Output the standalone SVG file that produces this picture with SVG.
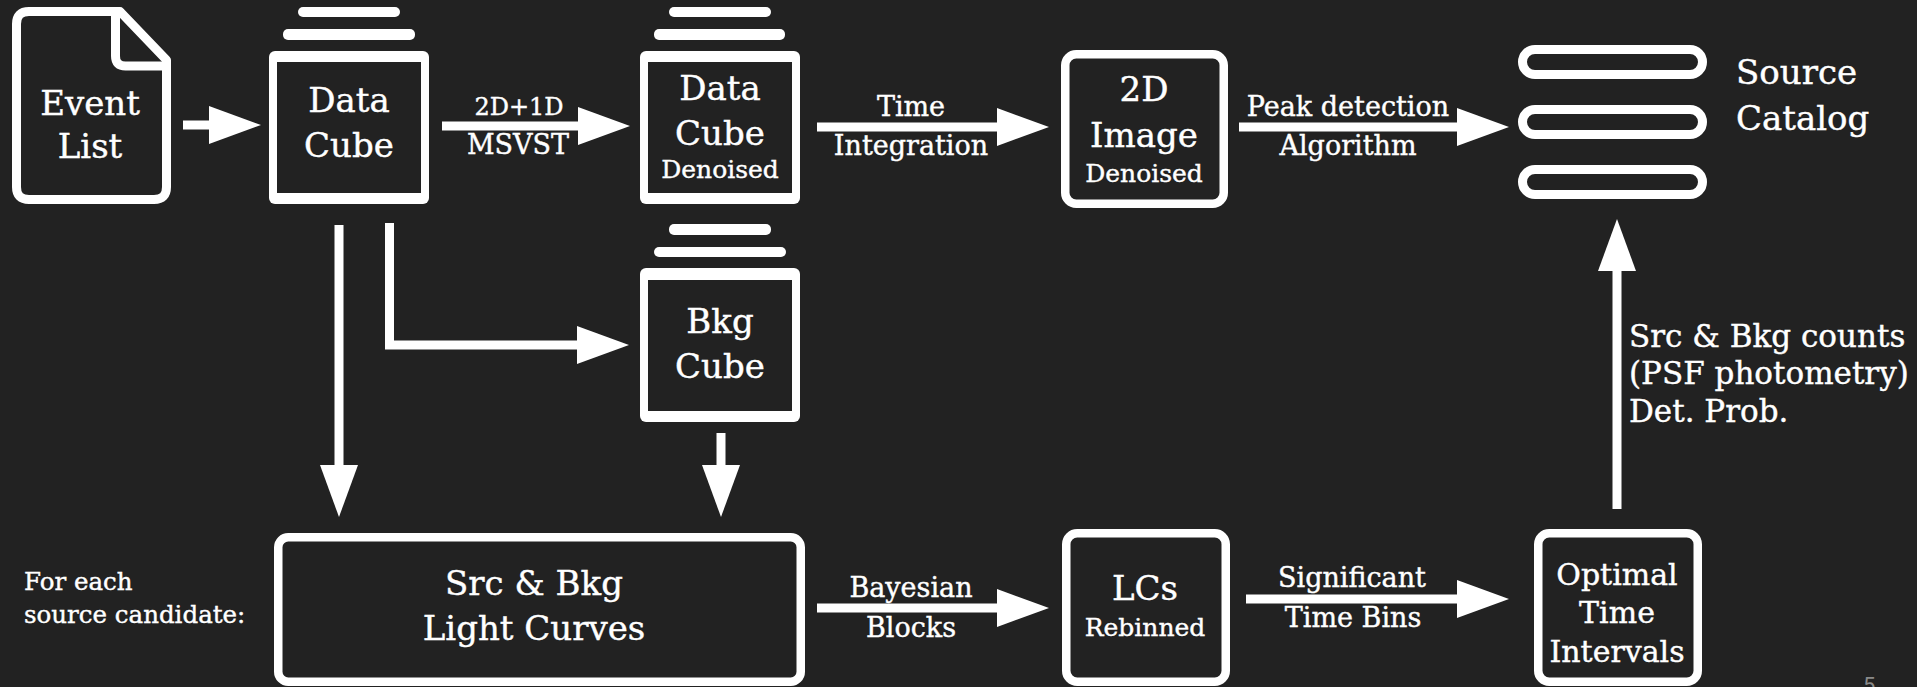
<svg xmlns="http://www.w3.org/2000/svg" width="1917" height="687" viewBox="0 0 1917 687">
<style>
.bg{fill:#222222}
.w{fill:#ffffff}
.k{fill:#222222}
.box{fill:#222222;stroke:#ffffff;stroke-width:8.5}
.ln{fill:none;stroke:#ffffff;stroke-width:9}
.t{font-family:"DejaVu Serif","Liberation Serif",serif;fill:#ffffff;stroke:#ffffff;stroke-width:0.4;text-anchor:middle}
.l{text-anchor:start}
.t1{font-size:34px}
.t2{font-size:25px}
.t3{font-size:27px}
.t4{font-size:30px}
.t5{font-size:31px}
.t6{font-size:24.5px}
</style>
<defs>
<marker id="ah" markerUnits="userSpaceOnUse" markerWidth="52" markerHeight="38" viewBox="0 0 52 38" refX="1" refY="19" orient="auto">
<path d="M0,0 L52,19 L0,38 Z" fill="#ffffff"/>
</marker>
</defs>
<rect class="bg" x="0" y="0" width="1917" height="687"/>

<g id="connectors">
<path class="ln" d="M183,125 H210" marker-end="url(#ah)"/>
<path class="ln" d="M442,126 H579" marker-end="url(#ah)"/>
<path class="ln" d="M817,127 H998" marker-end="url(#ah)"/>
<path class="ln" d="M1239,127 H1458" marker-end="url(#ah)"/>
<path class="ln" d="M339,225 V466" marker-end="url(#ah)"/>
<path class="ln" d="M389.5,223 V345 H578" marker-end="url(#ah)"/>
<path class="ln" d="M721,433 V466" marker-end="url(#ah)"/>
<path class="ln" d="M817,608 H998" marker-end="url(#ah)"/>
<path class="ln" d="M1246,599 H1458" marker-end="url(#ah)"/>
<path class="ln" d="M1617,509 V270" marker-end="url(#ah)"/>
<text class="t" font-size="24" x="519" y="115">2D+1D</text>
<text class="t" font-size="27" x="518" y="154">MSVST</text>
<text class="t t3" x="911" y="116">Time</text>
<text class="t t3" x="911" y="155">Integration</text>
<text class="t t3" x="1348" y="116">Peak detection</text>
<text class="t t3" x="1348" y="155">Algorithm</text>
<text class="t t3" x="911" y="597">Bayesian</text>
<text class="t t3" x="911" y="637">Blocks</text>
<text class="t t3" x="1352" y="587">Significant</text>
<text class="t t3" x="1353" y="627">Time Bins</text>
<text class="t t5 l" x="1629" y="347">Src &amp; Bkg counts</text>
<text class="t t5 l" x="1629" y="384">(PSF photometry)</text>
<text class="t t5 l" x="1629" y="422">Det. Prob.</text>
</g>

<g id="event-list">
<path class="ln" stroke-linejoin="round" d="M29,11.5 H120 L166.5,60 V187 Q166.5,199.5 154,199.5 H29 Q16.5,199.5 16.5,187 V24 Q16.5,11.5 29,11.5 Z"/>
<path class="ln" stroke-linejoin="round" d="M115.5,11.5 V56 Q115.5,66 125.5,66 H166.5"/>
<text class="t t1" x="90" y="115">Event</text>
<text class="t t1" x="90" y="158">List</text>
</g>

<g id="data-cube">
<rect class="w" x="298" y="7" width="102" height="10" rx="5"/>
<rect class="w" x="283" y="29" width="132" height="11" rx="5"/>
<rect class="w" x="269" y="51" width="160" height="153" rx="6"/>
<rect class="k" x="277" y="62" width="144" height="131"/>
<text class="t t1" x="349" y="112">Data</text>
<text class="t t1" x="349" y="157">Cube</text>
</g>

<g id="data-cube-denoised">
<rect class="w" x="669" y="7" width="102" height="10" rx="5"/>
<rect class="w" x="654" y="29" width="131" height="11" rx="5"/>
<rect class="w" x="640" y="51" width="160" height="153" rx="6"/>
<rect class="k" x="648" y="62" width="144" height="131"/>
<text class="t t1" x="720" y="100">Data</text>
<text class="t t1" x="720" y="145">Cube</text>
<text class="t t2" x="720" y="178">Denoised</text>
</g>

<g id="bkg-cube">
<rect class="w" x="669" y="224" width="102" height="11" rx="5"/>
<rect class="w" x="654" y="247" width="132" height="10" rx="5"/>
<rect class="w" x="640" y="268" width="160" height="154" rx="6"/>
<rect class="k" x="648" y="280" width="144" height="131"/>
<text class="t t1" x="720" y="333">Bkg</text>
<text class="t t1" x="720" y="378">Cube</text>
</g>

<g id="image-2d">
<rect class="box" x="1065.25" y="54.25" width="158.5" height="149.5" rx="11"/>
<text class="t t1" x="1144" y="101">2D</text>
<text class="t t1" x="1144" y="147">Image</text>
<text class="t t2" x="1144" y="182">Denoised</text>
</g>

<g id="source-catalog">
<rect class="ln" x="1522.5" y="49.5" width="180" height="25" rx="12.5"/>
<rect class="ln" x="1522.5" y="109.5" width="180" height="25" rx="12.5"/>
<rect class="ln" x="1522.5" y="169.5" width="180" height="25" rx="12.5"/>
<text class="t t1 l" x="1736" y="84">Source</text>
<text class="t t1 l" x="1736" y="130">Catalog</text>
</g>

<g id="light-curves">
<rect class="box" x="278.25" y="537.25" width="522.5" height="144.5" rx="10"/>
<text class="t t1" x="534" y="595">Src &amp; Bkg</text>
<text class="t t1" x="534" y="640">Light Curves</text>
</g>

<g id="lcs-rebinned">
<rect class="box" x="1066.25" y="533.25" width="159.5" height="148.5" rx="11"/>
<text class="t t1" x="1145" y="600">LCs</text>
<text class="t t2" x="1145" y="636">Rebinned</text>
</g>

<g id="optimal-intervals">
<rect class="box" x="1538.25" y="533.25" width="159.5" height="148.5" rx="11"/>
<text class="t t4" x="1617" y="585">Optimal</text>
<text class="t t4" x="1617" y="623">Time</text>
<text class="t t4" x="1617" y="662">Intervals</text>
</g>

<g id="for-each-label">
<text class="t t6 l" x="24" y="590">For each</text>
<text class="t t6 l" x="24" y="623">source candidate:</text>
</g>

<text x="1863" y="693" font-family="Roboto,'Liberation Sans',sans-serif" font-size="22" fill="#8a8a8a">5</text>
</svg>
